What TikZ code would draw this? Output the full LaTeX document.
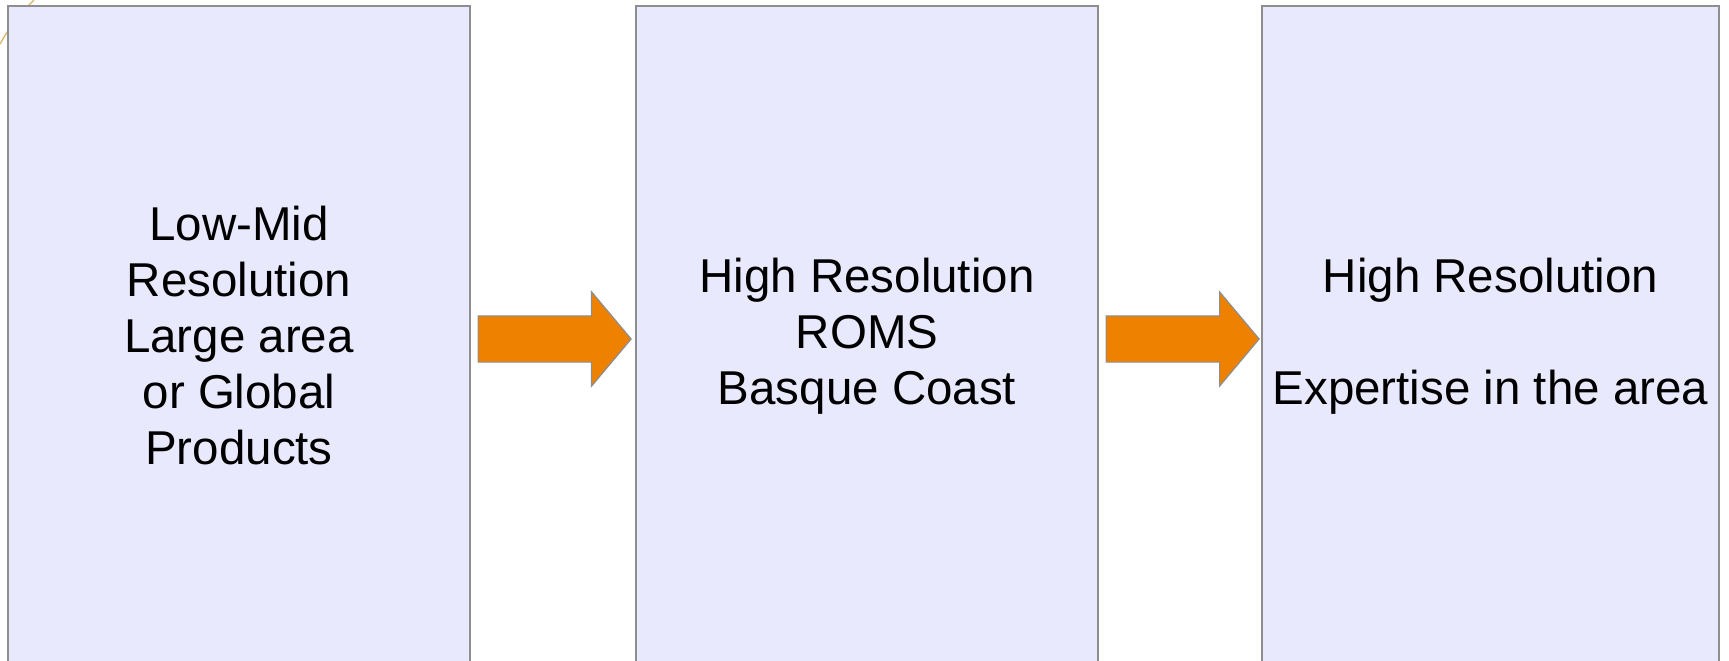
\documentclass[tikz,border=0pt]{standalone}
\usepackage{fontspec}
\setmainfont{Liberation Sans}
\usetikzlibrary{positioning,shapes.arrows}
\definecolor{boxfill}{HTML}{E9E9FD}
\definecolor{boxline}{HTML}{8E8E8E}
\definecolor{arrowfill}{HTML}{EE8100}
\definecolor{swirl}{HTML}{D8B46A}
\tikzset{
  stage/.style={draw=boxline,fill=boxfill,line width=2pt,align=center,
                minimum width=462pt,minimum height=660pt,inner sep=0pt,
                font=\fontsize{47.5}{56}\selectfont},
  flowarrow/.style={single arrow,draw=boxline,fill=arrowfill,line width=1.2pt,
                    minimum height=153pt,inner xsep=0pt,inner ysep=22.5pt,
                    single arrow head extend=24pt,single arrow tip angle=100}
}
\begin{document}
\begin{tikzpicture}[x=1pt,y=-1pt]
    \useasboundingbox (0,0) rectangle (1729,661);

    % faint decoration behind the first box
    \draw[swirl,line width=1.3pt] (0,44) to[bend left=8] (34,0);

    \node[stage] (coarse) at (239,336)
      {Low-Mid\\Resolution\\Large area\\or Global\\Products};
    \node[stage] (roms) at (867,336)
      {High Resolution\\ROMS\\Basque Coast};
    \node[stage,minimum width=457pt] (local) at (1490.5,336)
      {High Resolution\\[56pt]Expertise in the area};

    \node[flowarrow,right=6.5pt of coarse.east,yshift=-3pt] (toroms) {};
    \node[flowarrow,right=6.5pt of roms.east,yshift=-3pt] (tolocal) {};
\end{tikzpicture}
\end{document}
